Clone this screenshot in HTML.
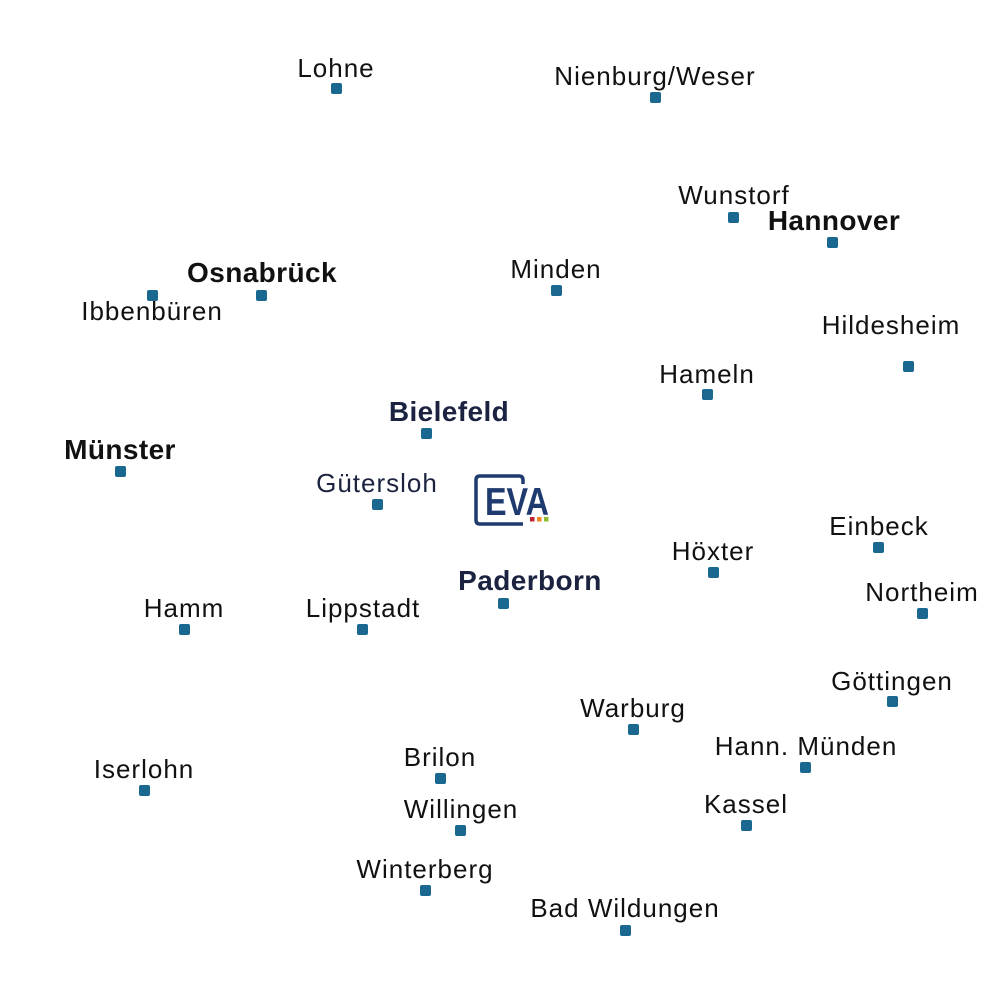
<!DOCTYPE html>
<html><head><meta charset="utf-8"><style>
html,body{margin:0;padding:0;background:#fff;}
svg text{font-family:"Liberation Sans",sans-serif;font-size:26px;fill:#111;text-anchor:middle;letter-spacing:1px;}
svg text.b{font-weight:bold;font-size:28px;letter-spacing:0.4px;}
svg text.n{fill:#1b2340;}
rect.m{fill:#1a6890;}
</style></head><body>
<svg width="1000" height="1000" viewBox="0 0 1000 1000" xmlns="http://www.w3.org/2000/svg">
<g>
<text x="336" y="77">Lohne</text><rect class="m" x="331" y="83" width="11" height="11" rx="2"/>
<text x="655" y="85">Nienburg/Weser</text><rect class="m" x="650" y="92" width="11" height="11" rx="2"/>
<text x="734" y="204">Wunstorf</text><rect class="m" x="728" y="212" width="11" height="11" rx="2"/>
<text class="b" x="834" y="230">Hannover</text><rect class="m" x="827" y="237" width="11" height="11" rx="2"/>
<text class="b" x="262" y="282">Osnabrück</text><rect class="m" x="256" y="290" width="11" height="11" rx="2"/>
<text x="152" y="320">Ibbenbüren</text><rect class="m" x="147" y="290" width="11" height="11" rx="2"/>
<text x="556" y="278">Minden</text><rect class="m" x="551" y="285" width="11" height="11" rx="2"/>
<text x="891" y="334">Hildesheim</text><rect class="m" x="903" y="361" width="11" height="11" rx="2"/>
<text x="707" y="383">Hameln</text><rect class="m" x="702" y="389" width="11" height="11" rx="2"/>
<text class="b n" x="449" y="421">Bielefeld</text><rect class="m" x="421" y="428" width="11" height="11" rx="2"/>
<text class="b" x="120" y="459">Münster</text><rect class="m" x="115" y="466" width="11" height="11" rx="2"/>
<text class="n" x="377" y="492">Gütersloh</text><rect class="m" x="372" y="499" width="11" height="11" rx="2"/>
<text x="879" y="535">Einbeck</text><rect class="m" x="873" y="542" width="11" height="11" rx="2"/>
<text x="713" y="560">Höxter</text><rect class="m" x="708" y="567" width="11" height="11" rx="2"/>
<text class="b n" x="530" y="590">Paderborn</text><rect class="m" x="498" y="598" width="11" height="11" rx="2"/>
<text x="922" y="601">Northeim</text><rect class="m" x="917" y="608" width="11" height="11" rx="2"/>
<text x="184" y="617">Hamm</text><rect class="m" x="179" y="624" width="11" height="11" rx="2"/>
<text x="363" y="617">Lippstadt</text><rect class="m" x="357" y="624" width="11" height="11" rx="2"/>
<text x="892" y="690">Göttingen</text><rect class="m" x="887" y="696" width="11" height="11" rx="2"/>
<text x="633" y="717">Warburg</text><rect class="m" x="628" y="724" width="11" height="11" rx="2"/>
<text x="806" y="755">Hann. Münden</text><rect class="m" x="800" y="762" width="11" height="11" rx="2"/>
<text x="440" y="766">Brilon</text><rect class="m" x="435" y="773" width="11" height="11" rx="2"/>
<text x="144" y="778">Iserlohn</text><rect class="m" x="139" y="785" width="11" height="11" rx="2"/>
<text x="746" y="813">Kassel</text><rect class="m" x="741" y="820" width="11" height="11" rx="2"/>
<text x="461" y="818">Willingen</text><rect class="m" x="455" y="825" width="11" height="11" rx="2"/>
<text x="425" y="878">Winterberg</text><rect class="m" x="420" y="885" width="11" height="11" rx="2"/>
<text x="625" y="917">Bad Wildungen</text><rect class="m" x="620" y="925" width="11" height="11" rx="2"/>
</g>
<g>
<path d="M523,484 L523,480 Q523,476 519,476 L480,476 Q476,476 476,480 L476,520 Q476,524 480,524 L523,524" fill="none" stroke="#1f3a6e" stroke-width="3.5"/>
<text x="485" y="515" textLength="64" lengthAdjust="spacingAndGlyphs" style="font-size:39px;font-weight:bold;text-anchor:start;fill:#1f3a6e;letter-spacing:0px;">EVA</text>
<rect x="530" y="517" width="4.5" height="4.5" fill="#c0262d"/>
<rect x="537" y="517" width="4.5" height="4.5" fill="#ef8a1e"/>
<rect x="544" y="517" width="4.5" height="4.5" fill="#8dbd2d"/>
</g>
</svg>
</body></html>
